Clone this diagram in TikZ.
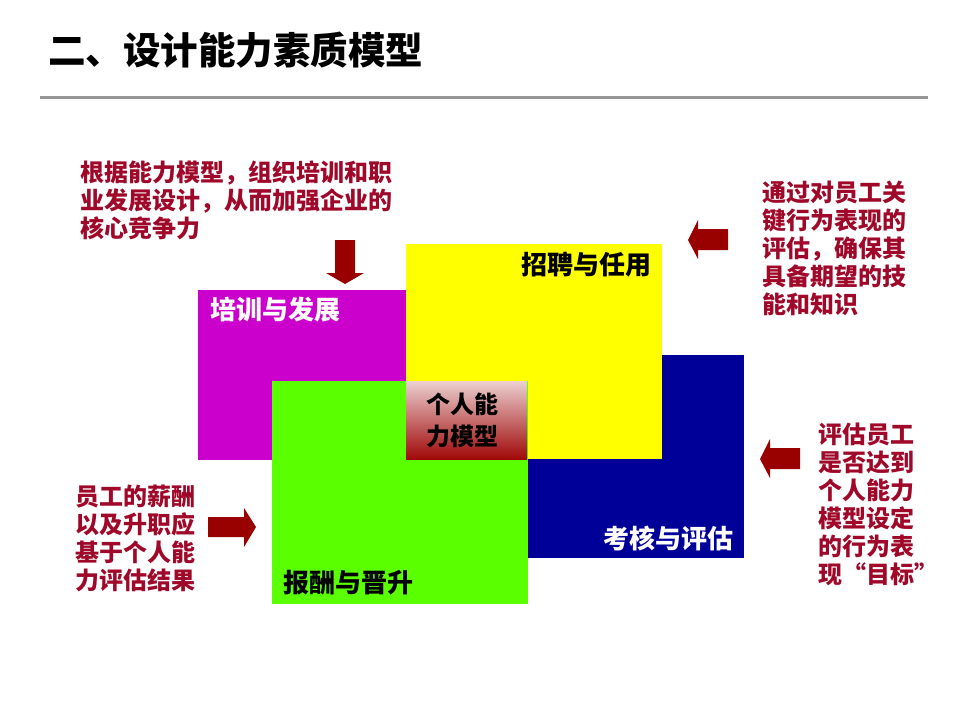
\documentclass[tikz,border=0pt]{standalone}
\usepackage{fontspec}
\setmainfont{Noto Sans CJK SC}
\definecolor{crim}{RGB}{160,8,42}
\definecolor{darr}{RGB}{153,0,0}
\definecolor{mag}{RGB}{204,0,204}
\definecolor{yel}{RGB}{255,255,0}
\definecolor{nav}{RGB}{0,0,153}
\definecolor{grn}{RGB}{90,255,0}
\definecolor{rule}{RGB}{150,150,150}
\begin{document}
\begin{tikzpicture}[x=1pt,y=-1pt,
  txtblk/.style={inner sep=0pt,anchor=north west,align=left,text=crim,font=\fontsize{24}{28}\selectfont\bfseries},
  boxlbl/.style={inner sep=0pt,font=\fontsize{26}{30}\selectfont\bfseries},
  blockarrow/.style={fill=darr,draw=none}]
\useasboundingbox (0,0) rectangle (960,720);
\fill[white] (0,0) rectangle (960,720);
% title
\node[inner sep=0pt,anchor=west,font=\fontsize{37.5}{40}\selectfont\bfseries] (title) at (48,50) {二、设计能力素质模型};
\draw[rule,line width=3pt] (40,97) -- (928,97);
% boxes
\fill[mag] (198,290) rectangle (406,460);
\fill[nav] (527,355) rectangle (744,558);
\fill[yel] (406,244) rectangle (662,459);
\fill[grn] (272,381) rectangle (528,604);
\shade[top color={rgb,255:red,236;green,208;blue,208},bottom color={rgb,255:red,160;green,8;blue,8}] (406,381) rectangle (527,459);
% box labels
\node[boxlbl,text=white] (train) at (275,310) {培训与发展};
\node[boxlbl,text=black] (recruit) at (586,265) {招聘与任用};
\node[boxlbl,text=white] (assess) at (668,538) {考核与评估};
\node[boxlbl,text=black] (reward) at (348,583) {报酬与晋升};
\node[inner sep=0pt,align=center,font=\fontsize{24}{32}\selectfont\bfseries] (core) at (462,420) {个人能\\力模型};
% text blocks
\node[txtblk] (t1) at (80,161) {根据能力模型，组织培训和职\\业发展设计，从而加强企业的\\核心竞争力};
\node[txtblk] (t2) at (762,181) {通过对员工关\\键行为表现的\\评估，确保其\\具备期望的技\\能和知识};
\node[txtblk] (t3) at (818,423) {评估员工\\是否达到\\个人能力\\模型设定\\的行为表\\现“目标”};
\node[txtblk] (t4) at (75,485) {员工的薪酬\\以及升职应\\基于个人能\\力评估结果};
% arrows
\fill[blockarrow] (335,240) -- (355,240) -- (355,273) -- (364,273) -- (345,284) -- (326,273) -- (335,273) -- cycle;
\fill[blockarrow] (728,229) -- (698,229) -- (698,220) -- (688,240) -- (698,259) -- (698,250) -- (728,250) -- cycle;
\fill[blockarrow] (800,448) -- (770,448) -- (770,439) -- (760,459) -- (770,478) -- (770,469) -- (800,469) -- cycle;
\fill[blockarrow] (208,517) -- (244,517) -- (244,508) -- (256,527) -- (244,547) -- (244,537) -- (208,537) -- cycle;
\end{tikzpicture}
\end{document}
